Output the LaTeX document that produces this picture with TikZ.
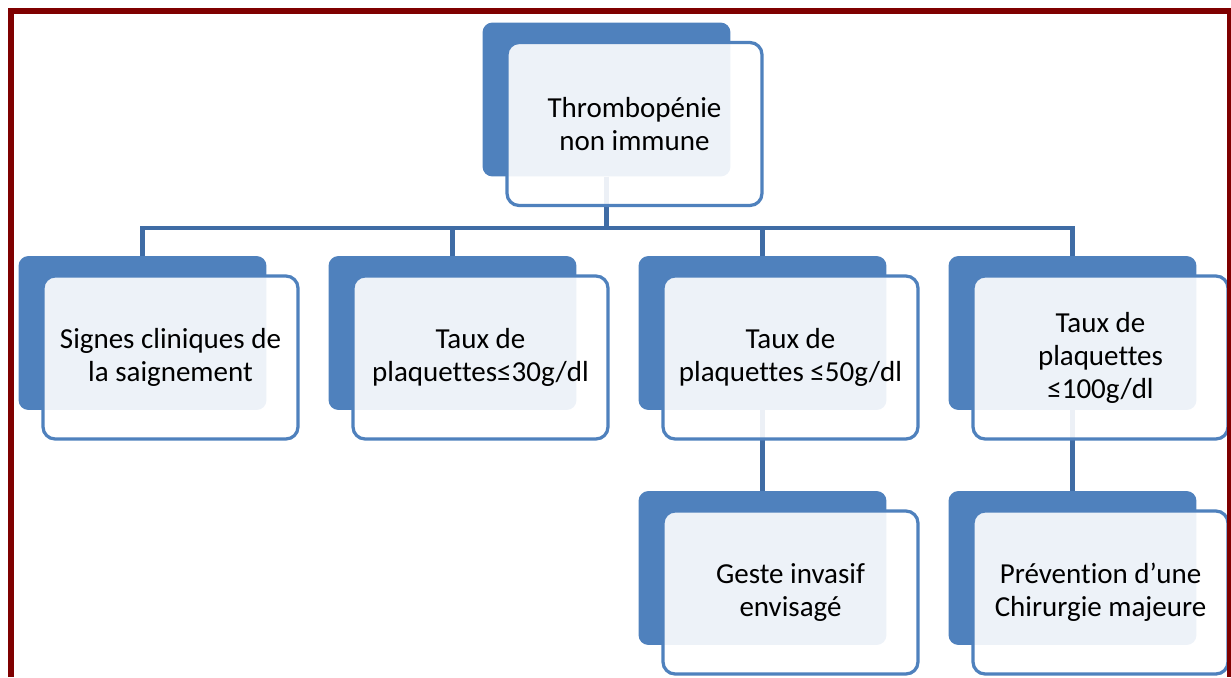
\documentclass[tikz,border=0pt]{standalone}
\usepackage{xcolor}
\usepackage{fontspec}
\setmainfont{Carlito}[RawFeature={-liga;-clig;-calt;-dlig}]
\usepackage{tikz}
\usetikzlibrary{shapes}
\usetikzlibrary{positioning}
\usetikzlibrary{calc}
\usetikzlibrary{backgrounds}
\definecolor{boxblue}{HTML}{4F81BD}
\definecolor{linkblue}{HTML}{3F6CA5}
\definecolor{framered}{HTML}{7F0000}
\newcommand{\boxfont}{\fontsize{16.5}{18.8}\selectfont}

\begin{document}
\begin{tikzpicture}[
  x=0.02cm, y=-0.02cm,
  dep/.style ={
    draw=linkblue, line width=0.09cm
  },
  back/.style={
    rectangle,
    rounded corners=0.2cm,
    fill=boxblue,
    minimum width=4.96cm,
    minimum height=3.08cm},
  front/.style={
    rectangle,
    rounded corners=0.24cm,
    draw=boxblue,
    line width=0.065cm,
    fill=white,
    fill opacity=0.9,
    text opacity=1,
    align=center,
    font=\boxfont,
    minimum width=5.1cm,
    minimum height=3.26cm},
  frame/.style={
    draw=framered, line width=0.12cm},
]

  \def\stepsize{310}%
  \def\lvlbase{333}%
  \def\lvlheight{235}%
  \def\dx{28}%
  \def\dy{24.5}%

  \useasboundingbox (0,0) rectangle (1231,677);

    % Root
  \node[back] (root_bk) at (606.5, 99.5) {};
  \node[front] (root) at (606.5+\dx, 99.5+\dy) {Thrombopénie\\non immune};

    % Criteria
  \foreach \step/\txt in {1/{Signes cliniques de\\la saignement},
                          2/{Taux de\\plaquettes≤30g/dl},
                          3/{Taux de\\plaquettes ≤50g/dl},
                          4/{Taux de\\plaquettes\\≤100g/dl}} {
    \node[back] (crit_bk_\step) 
        at (\stepsize*\step-167.5, \lvlbase) {};
    \node[front] (crit_\step) 
        at (\stepsize*\step-167.5+\dx, \lvlbase+\dy) {\txt};
   }

    % Situations
  \foreach \step/\txt in {3/{Geste invasif\\envisagé},
                          4/{Prévention d’une\\Chirurgie majeure}} {
    \node[back] (sub_bk_\step) 
        at (\stepsize*\step-167.5, \lvlbase+\lvlheight) {};
    \node[front] (sub_\step) 
        at (\stepsize*\step-167.5+\dx, \lvlbase+\lvlheight+\dy) {\txt};
   }

  \begin{pgfonlayer}{background}
    \foreach \step in {1,...,4} {
        \draw[dep] (root_bk.south) -- ++(0,51) -| (crit_bk_\step.north);
    }
    \foreach \step in {3,4} {
        \draw[dep] (crit_bk_\step.south) -- (sub_bk_\step.north);
    }
  \end{pgfonlayer}

  \draw[frame] (11,677) -- (11,11) -- (1230,11) -- (1230,677);

\end{tikzpicture}
\end{document}
